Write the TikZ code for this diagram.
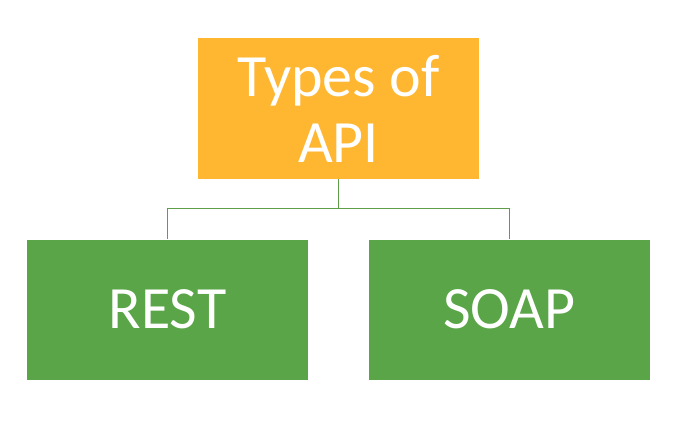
\documentclass[tikz,border=0pt]{standalone}
\usepackage{fontspec}
\setmainfont{Carlito}
\usepackage{tikz}
\usetikzlibrary{calc,positioning}
\definecolor{apiorange}{HTML}{FFB732}
\definecolor{apigreen}{HTML}{5AA547}
\definecolor{linkgreen}{HTML}{5E9E4A}
\tikzset{
  typebox/.style={fill=#1, text=white, minimum width=281pt, minimum height=140pt,
    inner sep=0pt, align=center, font=\fontsize{60}{66}\selectfont},
  treelink/.style={draw=linkgreen, line width=1.1pt}
}

\begin{document}
\begin{tikzpicture}[x=1pt,y=-1pt]
\useasboundingbox[fill=white] (0,0) rectangle (692,433);
\node[typebox=apiorange] (api) at (338.5,108.5) {Types of\\API};
\node[typebox=apigreen] (rest) at (167.5,309.5) {REST};
\node[typebox=apigreen] (soap) at (509.5,309.5) {SOAP};
\coordinate (mid) at ($(api.south)+(0,30)$);
\draw[treelink] (api.south) -- (mid);
\draw[treelink] (mid) -| (rest.north);
\draw[treelink] (mid) -| (soap.north);
\end{tikzpicture}
\end{document}
